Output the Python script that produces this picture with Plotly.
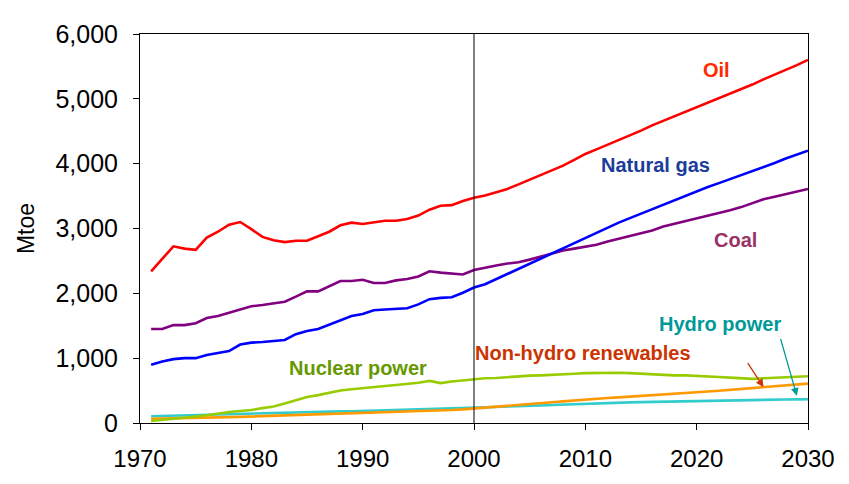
import plotly.graph_objects as go

years = list(range(1971, 2031))

oil = [2340, 2530, 2725, 2690, 2670, 2860, 2950, 3060, 3100, 2990,
       2870, 2820, 2790, 2810, 2810, 2880, 2950, 3050, 3090, 3070,
       3090, 3120, 3120, 3145, 3200, 3290, 3350, 3360, 3425, 3475,
       3510, 3560, 3610, 3680, 3750, 3820, 3900, 3970, 4060, 4150,
       4220, 4290, 4370, 4440, 4510, 4590, 4660, 4730, 4800, 4870,
       4940, 5010, 5080, 5140, 5220, 5300, 5370, 5440, 5520, 5600]

gas = [900, 950, 985, 1000, 1000, 1050, 1080, 1110, 1210, 1240,
       1250, 1260, 1280, 1370, 1420, 1450, 1520, 1580, 1650, 1680,
       1740, 1750, 1760, 1770, 1830, 1910, 1930, 1940, 2010, 2090,
       2140, 2220, 2300, 2380, 2460, 2540, 2620, 2700, 2780, 2850,
       2930, 3010, 3090, 3160, 3230, 3300, 3370, 3440, 3510, 3580,
       3640, 3700, 3760, 3820, 3880, 3950, 4010, 4080, 4140, 4200]

coal = [1450, 1450, 1510, 1510, 1540, 1620, 1650, 1700, 1760, 1800,
        1820, 1840, 1870, 1950, 2030, 2030, 2110, 2190, 2190, 2210,
        2160, 2160, 2200, 2220, 2260, 2340, 2320, 2300, 2290, 2360,
        2400, 2430, 2460, 2480, 2520, 2570, 2620, 2660, 2690, 2720,
        2750, 2800, 2840, 2880, 2920, 2970, 3030, 3070, 3110, 3160,
        3200, 3230, 3280, 3330, 3390, 3450, 3490, 3530, 3570, 3610]

nuclear = [30, 45, 60, 80, 100, 120, 150, 170, 185, 200,
           230, 255, 300, 350, 400, 430, 470, 500, 520, 540,
           560, 570, 585, 600, 620, 650, 615, 640, 660, 680,
           690, 695, 710, 720, 730, 735, 740, 750, 760, 770,
           775, 775, 775, 770, 760, 750, 740, 735, 735, 730,
           720, 710, 700, 690, 680, 690, 700, 705, 710, 720]

hydro = [105, 110, 110, 120, 125, 125, 130, 140, 145, 150,
         150, 155, 160, 165, 170, 175, 175, 180, 180, 185,
         190, 190, 195, 200, 210, 215, 220, 220, 225, 230,
         235, 240, 245, 255, 262, 270, 278, 285, 290, 298,
         303, 308, 313, 318, 322, 326, 330, 334, 338, 342,
         345, 348, 351, 354, 357, 359, 361, 363, 365, 367]

renewables = [65, 67, 70, 72, 75, 80, 85, 90, 95, 100,
              105, 110, 115, 120, 125, 130, 135, 140, 150, 160,
              165, 170, 175, 180, 185, 190, 195, 200, 210, 225,
              240, 250, 262, 275, 290, 305, 320, 333, 348, 363,
              375, 385, 395, 405, 415, 425, 437, 448, 460, 472,
              485, 497, 510, 522, 535, 548, 562, 576, 592, 608]

series_names = ["Oil", "Natural gas", "Coal", "Nuclear power", "Hydro power", "Non-hydro renewables"]
series_values = [oil, gas, coal, nuclear, hydro, renewables]
line_colors = ["#FF0000", "#0000FF", "#800080", "#99CC00", "#33CCCC", "#FF9900"]

x_ticks = [1970, 1980, 1990, 2000, 2010, 2020, 2030]
y_ticks = [0, 1000, 2000, 3000, 4000, 5000, 6000]
y_tick_labels = ["0", "1,000", "2,000", "3,000", "4,000", "5,000", "6,000"]

fig = go.Figure()

# draw order: small ones first
for i in [4, 5, 3, 2, 1, 0]:
    fig.add_trace(go.Scatter(x=years, y=series_values[i], mode="lines",
                             name=series_names[i],
                             line=dict(color=line_colors[i], width=2.6),
                             showlegend=False))

# vertical divider at 2000
fig.add_shape(type="line", xref="x", yref="y", x0=2000, x1=2000, y0=3885, y1=6000,
              line=dict(color="#808080", width=2))
fig.add_shape(type="line", xref="x", yref="y", x0=2000, x1=2000, y0=0, y1=3885,
              line=dict(color="#000000", width=1))

label_font = "Liberation Sans Narrow, Arial Narrow, Liberation Sans, Arial, sans-serif"
labels = [
    ("Oil", 2021.8, 5445, "#FF2A00"),
    ("Natural gas", 2016.3, 3975, "#1C3C9C"),
    ("Coal", 2023.5, 2820, "#993366"),
    ("Nuclear power", 1989.6, 855, "#669900"),
    ("Non-hydro renewables", 2009.8, 1080, "#CC3300"),
    ("Hydro power", 2022.1, 1530, "#009999"),
]
for text, xv, yv, col in labels:
    fig.add_annotation(x=xv, y=yv, xref="x", yref="y", text="<b>%s</b>" % text,
                       showarrow=False, font=dict(family=label_font, size=20, color=col))

# arrows
fig.add_annotation(x=2026.0, y=555, ax=2024.5, ay=945, xref="x", yref="y",
                   axref="x", ayref="y", text="", showarrow=True,
                   arrowhead=2, arrowsize=1.2, arrowwidth=1.3, arrowcolor="#CC3300")
fig.add_annotation(x=2029.0, y=420, ax=2027.5, ay=1320, xref="x", yref="y",
                   axref="x", ayref="y", text="", showarrow=True,
                   arrowhead=2, arrowsize=1.2, arrowwidth=1.3, arrowcolor="#009999")

x_tick_font = dict(family="Liberation Sans, Arial, sans-serif", size=24, color="#000000")
y_tick_font = dict(family="Liberation Sans, Arial, sans-serif", size=25, color="#000000")

# the page body adds an 8px offset, so the figure is 8px smaller with margins shifted
fig.update_layout(
    width=841, height=476,
    margin=dict(l=132, r=41, t=17, b=59),
    paper_bgcolor="white", plot_bgcolor="white",
    xaxis=dict(range=[1970, 2030], tickvals=x_ticks, ticks="outside", ticklen=6,
               tickcolor="black", showline=True, linecolor="black", linewidth=1,
               mirror=True, showgrid=False, zeroline=False, tickfont=x_tick_font,
               ticklabelstandoff=8),
    yaxis=dict(range=[0, 6000], tickvals=y_ticks, ticktext=y_tick_labels,
               ticks="outside", ticklen=6, tickcolor="black", showline=True,
               linecolor="black", linewidth=1, mirror=True, showgrid=False,
               zeroline=False, tickfont=y_tick_font, ticklabelstandoff=10,
               title=dict(text="Mtoe", font=dict(family="Liberation Sans, Arial, sans-serif", size=23, color="black"),
                          standoff=14)),
)

fig.write_html("out.html")
